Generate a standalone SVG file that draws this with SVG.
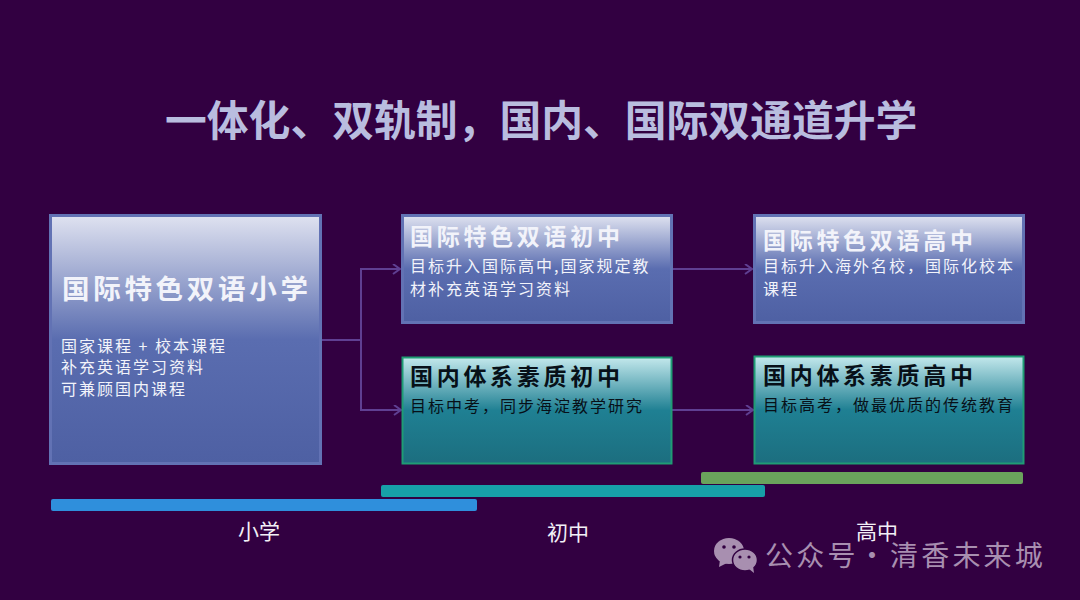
<svg xmlns="http://www.w3.org/2000/svg" width="1080" height="600" viewBox="0 0 1080 600">
<style>
text{font-family:"Noto Sans CJK SC","Liberation Sans",sans-serif}
.blue{fill:url(#gb);stroke:#6272b4;stroke-width:3}
.green{fill:url(#gg);stroke:#1f9c74;stroke-width:2}
.c{fill:none;stroke:#5f3f92;stroke-width:2}
.h{font-size:23px;font-weight:700;letter-spacing:3.7px}
.b{font-size:16px;letter-spacing:2px}
.w{fill:#f2f3fa}
.k{fill:#071018}
.l{font-size:21px;fill:#f2f0f6}
.wm{font-size:28px;fill:#a88fb0;letter-spacing:3.2px}
</style>
<defs>
<linearGradient id="gb" x1="0" y1="0" x2="0" y2="1"><stop offset="0" stop-color="#dfe2f0"/><stop offset=".5" stop-color="#5a6db0"/><stop offset="1" stop-color="#4e60a3"/></linearGradient>
<linearGradient id="gg" x1="0" y1="0" x2="0" y2="1"><stop offset="0" stop-color="#c3e8ec"/><stop offset=".5" stop-color="#1f8093"/><stop offset="1" stop-color="#1c6e7f"/></linearGradient>
<marker id="a" markerWidth="10" markerHeight="12" refX="8" refY="5" orient="auto" markerUnits="userSpaceOnUse"><path d="M1 0L8 5L1 10" fill="none" stroke="#5f3f92" stroke-width="2"/></marker>
</defs>
<rect width="1080" height="600" fill="#320041"/>
<text id="title" x="165" y="136" font-size="41.800" font-weight="700" fill="#b9bddf">一体化、双轨制，国内、国际双通道升学</text>
<g id="connectors">
<path class="c" d="M322 340H361V269H400" marker-end="url(#a)"/>
<path class="c" d="M361 340V410H401" marker-end="url(#a)"/>
<path class="c" d="M673 269H752" marker-end="url(#a)"/>
<path class="c" d="M672 410H753" marker-end="url(#a)"/>
</g>
<g id="primary"><rect class="blue" x="50.500" y="215.500" width="270" height="248"/>
<text x="62" y="299" font-size="27.500" font-weight="700" letter-spacing="3.700" class="w">国际特色双语小学</text>
<text class="b w" x="61" y="352">国家课程 + 校本课程</text>
<text class="b w" x="61" y="373">补充英语学习资料</text>
<text class="b w" x="61" y="395">可兼顾国内课程</text></g>
<g id="intl-middle"><rect class="blue" x="402.500" y="215.500" width="269" height="107"/>
<text class="h w" x="410" y="245">国际特色双语初中</text>
<text class="b w" x="410" y="272">目标升入国际高中,国家规定教</text>
<text class="b w" x="410" y="295">材补充英语学习资料</text></g>
<g id="domestic-middle"><rect class="green" x="402.500" y="357.500" width="269" height="106"/>
<text class="h k" x="410" y="385">国内体系素质初中</text>
<text class="b k" x="410" y="412">目标中考，同步海淀教学研究</text></g>
<g id="intl-high"><rect class="blue" x="754.500" y="215.500" width="269" height="107"/>
<text class="h w" x="763" y="249">国际特色双语高中</text>
<text class="b w" x="763" y="272">目标升入海外名校，国际化校本</text>
<text class="b w" x="763" y="295">课程</text></g>
<g id="domestic-high"><rect class="green" x="754.500" y="356.500" width="269" height="107"/>
<text class="h k" x="763" y="384">国内体系素质高中</text>
<text class="b k" x="763" y="411">目标高考，做最优质的传统教育</text></g>
<g id="bars">
<rect x="701" y="472" width="322" height="12" rx="2" fill="#6aa35c"/>
<rect x="381" y="485" width="384" height="12" rx="2" fill="#17a0a8"/>
<rect x="51" y="499" width="426" height="12" rx="2" fill="#2f8fdc"/>
</g>
<text class="l" x="238" y="539">小学</text>
<text class="l" x="547" y="540">初中</text>
<text class="l" x="856" y="539">高中</text>
<g id="watermark">
<g fill="#a88fb0"><ellipse cx="729" cy="551" rx="15" ry="13"/><path d="M720 560l-1 7 8-4z"/></g>
<g fill="#a88fb0" stroke="#320041" stroke-width="1.500"><ellipse cx="745" cy="560" rx="12.500" ry="11"/></g>
<path d="M749 569l5 4-1-7z" fill="#a88fb0"/>
<g fill="#320041"><circle cx="724" cy="547" r="1.800"/><circle cx="734" cy="547" r="1.800"/><circle cx="740" cy="557" r="1.600"/><circle cx="749" cy="557" r="1.600"/></g>
<text class="wm" x="765" y="566">公众号<tspan x="858">·</tspan><tspan x="890">清香未来城</tspan></text>
</g>
</svg>
